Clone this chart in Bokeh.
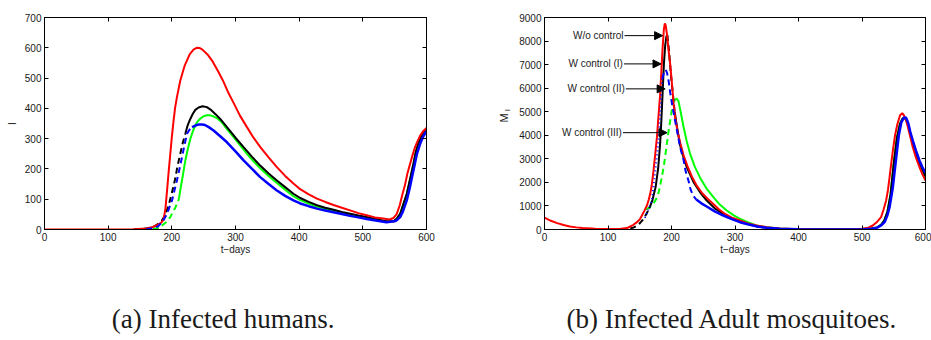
from math import pi

from bokeh.core.properties import value
from bokeh.embed import file_html
from bokeh.layouts import column, row
from bokeh.models import Arrow, FixedTicker, LinearAxis, NormalHead, Range1d
from bokeh.plotting import figure
from bokeh.resources import INLINE

# ---------------------------------------------------------------- data ----
x_ticks = [0, 100, 200, 300, 400, 500, 600]
I_ticks = [0, 100, 200, 300, 400, 500, 600, 700]
M_ticks = [0, 1000, 2000, 3000, 4000, 5000, 6000, 7000, 8000, 9000]

# (a) infected humans I(t)
I_red_t = [0, 100, 140, 160, 170, 178, 183, 187, 190, 192.5, 195, 197.6, 200, 202.8, 205, 208, 213.3, 220, 228, 234,
           239, 244, 248, 256, 264, 272, 280, 288, 297, 307, 318, 328, 339, 352, 365, 378, 391, 401.6, 415, 428,
           441, 454, 467, 480, 493, 506, 519, 532, 542, 548, 553, 558, 562, 566, 570, 574, 578, 582, 586, 590,
           595, 600]
I_red = [0, 0, 1, 3, 8, 16, 22, 32, 70, 129, 190, 250, 305, 360, 400, 437, 492, 540, 578, 594,
         600, 599, 594, 578, 555, 525, 493, 455, 418, 376, 338, 304, 272, 238, 206, 177, 152, 133, 116, 102,
         91, 81, 72, 63, 54, 47, 40, 36, 33, 38, 50, 80, 115, 145, 185, 215, 245, 272, 292, 310,
         325, 335]

I_black_dash_t = [140, 155, 165, 172, 178, 184, 190, 195, 200, 205, 209, 213.3, 217, 221.2]
I_black_dash = [0, 2, 5, 10, 18, 28, 50, 80, 120, 165, 210, 250, 285, 316]
I_black_t = [221.2, 225, 229, 233, 236.9, 242, 248.4, 255, 262, 269, 276, 286.6, 300, 312.7, 326, 338.8, 352,
             365, 378, 391, 401.6, 415, 428, 441, 454, 467, 480, 493, 506, 525, 537, 548, 553, 558.6, 563, 569,
             574, 579.5, 583, 587, 591, 595, 600]
I_black = [316, 345, 365, 382, 395, 403, 407, 404, 394, 380, 365, 338, 303, 272, 240, 211, 185,
           162, 140, 118, 104, 91, 80, 72, 65, 58, 52, 46, 41, 32, 27, 27, 35, 52, 80, 118,
           165, 218, 255, 283, 305, 321, 330]

I_green_dash_t = [170, 180, 184.6, 190, 197.6, 201, 205.5, 211]
I_green_dash = [2, 5, 13, 22, 41, 55, 72, 100]
I_green_t = [211, 213.3, 217, 221.2, 225, 229, 234, 239.5, 245, 250, 255, 260.4, 266, 272, 279, 286, 297, 308,
             318, 328, 338.8, 352, 365, 378, 391, 401.6, 415, 428, 441, 454, 467, 480, 493, 506, 525, 537, 548,
             553, 558.6, 563, 569, 574, 579.5, 583, 587, 591, 595, 600]
I_green = [100, 130, 175, 228, 265, 299, 330, 354, 367, 374, 377, 377, 373, 366, 353, 333, 305, 276,
           250, 226, 202, 177, 154, 131, 110, 97, 86, 76, 68, 61, 55, 50, 44, 39, 31, 26, 27,
           34, 50, 78, 116, 163, 215, 252, 280, 303, 319, 328]

I_blue_dash_t = [160, 170, 178, 184.6, 188, 192.5, 196, 200.3, 204, 208, 212, 216, 220, 223.8, 228, 231.7]
I_blue_dash = [1, 4, 10, 24, 35, 52, 72, 96, 128, 162, 200, 239, 280, 316, 330, 338]
I_blue_t = [231.7, 238, 243, 247.3, 252, 258, 265.6, 276, 286.6, 300, 312.7, 326, 338.8, 352, 365, 378, 391,
            401.6, 415, 428, 441, 454, 467, 480, 493, 506, 525, 537, 550, 553, 558.6, 563, 569, 574, 579.5,
            585, 590, 595, 600]
I_blue = [338, 344, 347, 347, 345, 338, 327, 308, 288, 258, 228, 200, 173, 150, 129, 111, 96,
          86, 77, 69, 63, 57, 51, 45, 40, 35, 28, 24, 27, 30, 41, 60, 96, 140, 195,
          250, 283, 308, 325]

# (b) infected adult mosquitoes M_I(t)
M_red_t = [0, 10, 20, 30, 40, 50, 60, 80, 100, 120, 130, 135, 140, 145.6, 150, 153.4, 157, 161.3, 164, 166.5,
           169, 171.7, 174, 177, 179.5, 182, 184, 186, 188, 189.5, 191, 193, 195, 198, 201, 203, 206, 210, 214, 219,
           225, 232, 240, 248, 256, 265, 275, 285, 295, 308, 320, 334, 350, 370, 390, 420, 460, 490, 500, 510,
           517, 524, 530, 534, 538, 541, 543.4, 546, 548.6, 552, 556, 560, 563.3, 566, 569.6, 575, 580, 585, 590.5,
           595, 600]
M_red = [500, 370, 270, 190, 130, 90, 60, 30, 20, 30, 60, 127, 200, 311, 430, 594, 780, 1019, 1250, 1513,
         1900, 2504, 3100, 3900, 4800, 5700, 6700, 7700, 8500, 8750, 8650, 8250, 7700, 7000, 6100, 5400, 4700, 4100,
         3650, 3150, 2700, 2250, 1850, 1550, 1330, 1100, 850, 650, 500, 380, 260, 170, 100, 45, 20, 8, 5, 15, 35,
         80, 170, 330, 522, 850, 1231, 1700, 2220, 2800, 3353, 4000, 4500, 4850, 4936, 4850, 4626, 4050, 3493,
         3050, 2645, 2350, 2080]

M_black_dash1_t = [135, 140, 145, 150, 155, 160, 165]
M_black_dash1 = [40, 80, 150, 260, 420, 640, 900]
M_black_t1 = [165, 170, 175, 179, 182, 184, 186, 188, 190, 192, 193.5]
M_black1 = [900, 1250, 1800, 2600, 3600, 4600, 5800, 7000, 7800, 8200, 8250]
M_black_dash2_t = [193.5, 196, 199, 202, 205]
M_black_dash2 = [8250, 7600, 6600, 5800, 5000]
M_black_t2 = [205, 209, 213.6, 219, 224, 234.7, 245, 255.5, 268, 281.7, 295, 307.8, 320, 335, 350, 370, 400, 450,
              500, 515, 524, 530, 535, 540, 545, 550, 555, 560, 564, 568, 572, 576, 580, 585, 590, 595, 600]
M_black2 = [5000, 4300, 3565, 3050, 2645, 2008, 1580, 1231, 900, 665, 480, 354, 240, 130, 70, 30, 8, 3,
            5, 40, 90, 200, 380, 750, 1500, 2800, 3900, 4500, 4720, 4720, 4500, 4100, 3700, 3250, 2850, 2550, 2250]

M_green_dash_t = [160, 166, 172, 176, 180, 184.8, 188, 192.7, 195.5, 198, 202, 205]
M_green_dash = [850, 950, 1120, 1300, 1600, 2220, 2700, 3637, 4200, 4626, 5335, 5500]
M_green_t = [205, 208, 211, 214, 219, 224, 229.3, 237, 245, 255, 266, 276, 287, 298, 308, 320, 334, 350, 370, 400,
             450, 500, 515, 524, 530, 535, 540, 545, 550, 555, 560, 564, 568, 572, 576, 580, 585, 590, 595, 600]
M_green = [5500, 5560, 5450, 5050, 4350, 3750, 3212, 2650, 2200, 1750, 1371, 1060, 806, 600, 454, 310, 170, 95,
           40, 12, 5, 10, 40, 90, 200, 380, 750, 1500, 2800, 3900, 4500, 4720, 4720, 4500, 4100, 3700, 3250,
           2850, 2550, 2250]

M_blue_dot_t = [158, 163, 169, 174, 177, 179.5, 182, 184, 185.5]
M_blue_dot = [500, 800, 1230, 2400, 3100, 3780, 4800, 5800, 6400]
M_blue_dash_t = [185.5, 189, 191, 193, 195.5, 198, 201, 205.5, 210, 214, 219, 222, 227, 230, 234, 239]
M_blue_dash = [6400, 6750, 6780, 6650, 6300, 5800, 5300, 4650, 4000, 3450, 2950, 2500, 2050, 1700, 1450, 1270]
M_blue_t = [239, 247, 255.5, 268, 281.7, 295, 307.8, 320, 335, 350, 370, 400, 450, 500, 515, 524, 530, 535.6, 540,
            543.4, 548.6, 554, 558, 562, 566, 569.6, 573, 576, 580, 585, 590.5, 595, 600]
M_blue = [1270, 1110, 976, 770, 594, 440, 311, 220, 130, 70, 30, 8, 2, 4, 30, 80, 170, 311, 600,
          947, 1796, 3070, 4000, 4550, 4750, 4740, 4500, 4150, 3778, 3350, 2929, 2650, 2400]

# annotation arrows in panel (b)
arrow_labels = ["W/o control", "W control (I)", "W control (II)", "W control (III)"]
arrow_tail_t = [126, 125, 128, 123.5]
arrow_tip_t = [186, 183.5, 190, 193]
arrow_M = [8230, 7030, 5970, 4110]

captions = ["(a)  Infected humans.", "(b)  Infected Adult mosquitoes."]

# --------------------------------------------------------------- style ----
SANS = "Liberation Sans"
SERIF = "Liberation Serif"
DASH = "6 4"
DOT = "1 3"
LW = 2
TEXT = "#1a1a1a"
H = 262  # height of the plot row


def style_axis(ax, ticks, show_labels=True):
    ax.ticker = FixedTicker(ticks=ticks)
    ax.axis_line_color = "black"
    ax.axis_line_width = 1
    ax.major_tick_in = 4
    ax.major_tick_out = 0
    ax.major_tick_line_color = "black"
    ax.minor_tick_line_color = None
    ax.major_label_text_font = SANS
    if show_labels:
        ax.major_label_text_color = TEXT
        ax.major_label_text_font_size = "10px"
        ax.major_label_standoff = 3
    else:
        # tick marks only (box edges)
        ax.major_label_text_color = None
        ax.major_label_text_font_size = "1px"
        ax.major_label_standoff = 0


def panel(width, border_left, border_right, ymax, yticks):
    p = figure(width=width, height=H, x_range=Range1d(0, 600), y_range=Range1d(0, ymax),
               toolbar_location=None, output_backend="svg",
               min_border_left=border_left, min_border_right=border_right,
               min_border_top=17, min_border_bottom=33)
    p.grid.visible = False
    p.outline_line_color = "black"
    p.background_fill_color = "white"
    p.border_fill_color = "white"
    style_axis(p.xaxis[0], x_ticks)
    style_axis(p.yaxis[0], yticks)
    p.xaxis[0].axis_label = "t\u2212days"
    p.xaxis[0].axis_label_text_font = SANS
    p.xaxis[0].axis_label_text_color = TEXT
    p.xaxis[0].axis_label_text_font_size = "10px"
    p.xaxis[0].axis_label_text_font_style = "normal"
    p.xaxis[0].axis_label_standoff = 0
    top = LinearAxis()
    style_axis(top, x_ticks, show_labels=False)
    p.add_layout(top, "above")
    right = LinearAxis()
    style_axis(right, yticks, show_labels=False)
    p.add_layout(right, "right")
    return p


# ------------------------------------------------------- (a) humans -------
pa = panel(470, 44, 44, 700, I_ticks)
pa.yaxis[0].axis_label = "I"
pa.yaxis[0].axis_label_text_font = SANS
pa.yaxis[0].axis_label_text_color = TEXT
pa.yaxis[0].axis_label_text_font_size = "10px"
pa.yaxis[0].axis_label_text_font_style = "normal"
pa.yaxis[0].axis_label_standoff = 4

pa.line(I_green_dash_t, I_green_dash, line_color="#00ff00", line_width=LW, line_dash=DASH)
pa.line(I_green_t, I_green, line_color="#00ff00", line_width=LW)
pa.line(I_black_dash_t, I_black_dash, line_color="black", line_width=LW, line_dash=DASH)
pa.line(I_black_t, I_black, line_color="black", line_width=LW)
pa.line(I_red_t, I_red, line_color="#ff0000", line_width=LW)
pa.line(I_blue_dash_t, I_blue_dash, line_color="#0000ff", line_width=LW, line_dash=DASH)
pa.line(I_blue_t, I_blue, line_color="#0000ff", line_width=2.5)

# ---------------------------------- y title strip for (b): M with subscript I
pm = figure(width=45, height=H, x_range=Range1d(0, 45), y_range=Range1d(0, H),
            toolbar_location=None, output_backend="svg", min_border=0)
pm.axis.visible = False
pm.grid.visible = False
pm.outline_line_color = None
pm.text(x=[33.5], y=[H - 124], text=["M"], angle=pi / 2, text_font=value(SANS), text_font_size="11px",
        text_color=TEXT, text_align="center", text_baseline="middle")
pm.text(x=[37], y=[H - 114.5], text=["I"], angle=pi / 2, text_font=value(SANS), text_font_size="8px",
        text_color=TEXT, text_align="center", text_baseline="middle")

# --------------------------------------------------- (b) mosquitoes -------
pb = panel(416, 29, 6, 9000, M_ticks)

pb.line(M_green_dash_t, M_green_dash, line_color="#00ff00", line_width=LW, line_dash=DASH)
pb.line(M_green_t, M_green, line_color="#00ff00", line_width=LW)
pb.line(M_black_dash1_t, M_black_dash1, line_color="black", line_width=LW, line_dash=DASH)
pb.line(M_black_t1, M_black1, line_color="black", line_width=LW)
pb.line(M_black_dash2_t, M_black_dash2, line_color="black", line_width=LW, line_dash=DASH)
pb.line(M_black_t2, M_black2, line_color="black", line_width=LW)
pb.line(M_red_t, M_red, line_color="#ff0000", line_width=LW)
pb.line(M_blue_dot_t, M_blue_dot, line_color="#0000ff", line_width=LW, line_dash=DOT)
pb.line(M_blue_dash_t, M_blue_dash, line_color="#0000ff", line_width=LW, line_dash=DASH)
pb.line(M_blue_t, M_blue, line_color="#0000ff", line_width=2.5)

for tail, tip, m in zip(arrow_tail_t, arrow_tip_t, arrow_M):
    pb.add_layout(Arrow(end=NormalHead(size=8, fill_color="black", line_color="black", line_width=1),
                        x_start=tail, y_start=m, x_end=tip, y_end=m,
                        line_color="black", line_width=1))
pb.text(x=arrow_tail_t, y=arrow_M, text=arrow_labels, x_offset=-1,
        text_font=value(SANS), text_font_size="10px", text_color=TEXT,
        text_align="right", text_baseline="middle")

# ------------------------------------------------------------ captions ----
pc = figure(width=931, height=340 - H, x_range=Range1d(0, 931), y_range=Range1d(0, 340 - H),
            toolbar_location=None, output_backend="svg", min_border=0)
pc.axis.visible = False
pc.grid.visible = False
pc.outline_line_color = None
pc.text(x=[226, 735], y=[22, 22], text=captions, text_font=value(SERIF), text_font_size="27px",
        text_color=TEXT, text_align="center", text_baseline="middle")

layout = column(row(pa, pm, pb), pc)
open("out.html", "w").write(file_html(layout, INLINE))
